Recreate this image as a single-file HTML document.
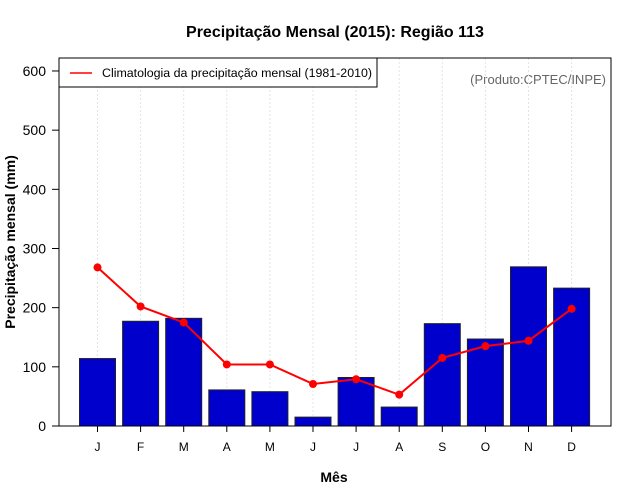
<!DOCTYPE html>
<html><head><meta charset="utf-8"><style>
body{margin:0;background:#fff;}
svg{display:block;font-family:"Liberation Sans",sans-serif;}
</style></head><body>
<svg id="c" width="640" height="500">
<text x="335" y="37" text-anchor="middle" font-size="16" font-weight="bold">Precipitação Mensal (2015): Região 113</text>
<text x="334" y="482" text-anchor="middle" font-size="14" font-weight="bold">Mês</text>
<text transform="translate(15,242) rotate(-90)" text-anchor="middle" font-size="14" font-weight="bold">Precipitação mensal (mm)</text>
<text x="606" y="84" text-anchor="end" font-size="13" fill="#666">(Produto:CPTEC/INPE)</text>
<g id="grid"></g><g id="bars"></g><g id="line"></g><g id="axes"></g>
<rect x="59" y="58" width="552" height="368" fill="none" stroke="#000"/>
<g>
<rect x="59" y="58" width="318" height="29" fill="#fff" stroke="#000"/>
<line x1="70" y1="73" x2="92" y2="73" stroke="red" stroke-width="1.5"/>
<text x="102" y="77" font-size="12.4">Climatologia da precipitação mensal (1981-2010)</text>
</g>
</svg>
<script>
const months=["J","F","M","A","M","J","J","A","S","O","N","D"];
const precip=[114,177,182,61,58,15,82,32,173,147,269,233];
const clim=[268,202,175,104,104,71,79,53,115,135,144,198];
const yTicks=[0,100,200,300,400,500,600];
const NS="http://www.w3.org/2000/svg";
const x=i=>97.5+i*43.1;
const y=v=>426-v*0.5917;
function mk(t,a,p){const e=document.createElementNS(NS,t);for(const k in a)e.setAttribute(k,a[k]);p.appendChild(e);return e;}
const g=document.getElementById('grid'),b=document.getElementById('bars'),l=document.getElementById('line'),ax=document.getElementById('axes');
months.forEach((m,i)=>{
 const gl=mk('line',{x1:x(i),x2:x(i),y1:58,y2:426,stroke:'#e4e4e4','stroke-dasharray':'2,2'},g);
 
 
 const r=mk('rect',{x:x(i)-18,y:y(precip[i]),width:36,height:426-y(precip[i]),fill:'#0000cc',stroke:'#222','stroke-width':1},b);
 
 
 const t=mk('line',{x1:x(i),x2:x(i),y1:426,y2:432,stroke:'#000'},ax);
 
 
 const tl=mk('text',{x:x(i),y:451,'text-anchor':'middle','font-size':12},ax);tl.textContent=m;
 
 
});
const pl=mk('polyline',{points:clim.map((v,i)=>x(i)+','+y(v)).join(' '),fill:'none',stroke:'red','stroke-width':2},l);


clim.forEach((v,i)=>{const c=mk('circle',{cx:x(i),cy:y(v),r:4,fill:'red'},l);
 
 });
yTicks.forEach(v=>{
 const t=mk('line',{x1:52,x2:59,y1:y(v),y2:y(v),stroke:'#000'},ax);
 
 
 const tl=mk('text',{x:46,y:y(v)+5,'text-anchor':'end','font-size':14},ax);tl.textContent=v;
 
 
});
</script>
</body></html>
